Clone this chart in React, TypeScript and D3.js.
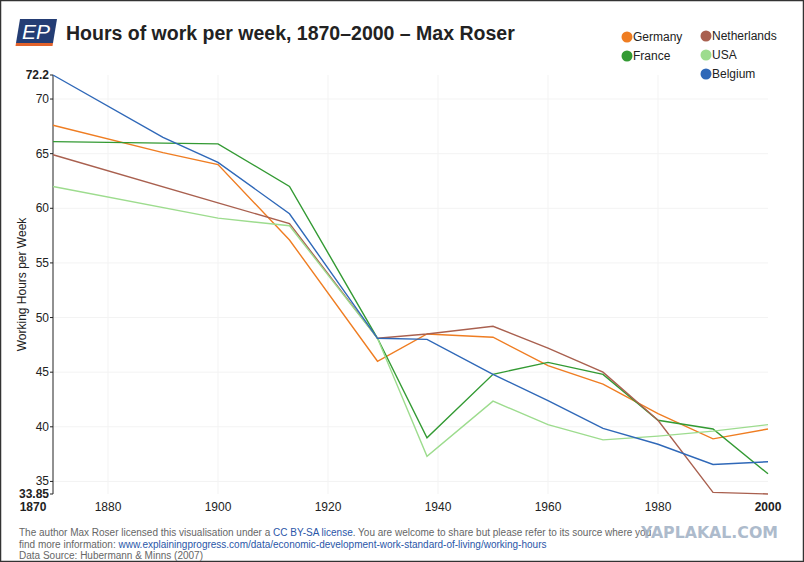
import * as d3 from "d3";
import { useEffect } from "react";

type Pt = { year: number; value: number };

const germany: Pt[] = [
  { year: 1870, value: 67.6 }, { year: 1890, value: 65.1 }, { year: 1900, value: 64.0 },
  { year: 1913, value: 57.1 }, { year: 1929, value: 46.0 }, { year: 1938, value: 48.5 },
  { year: 1950, value: 48.2 }, { year: 1960, value: 45.6 }, { year: 1970, value: 43.9 },
  { year: 1980, value: 41.2 }, { year: 1990, value: 38.9 }, { year: 2000, value: 39.8 },
];
const france: Pt[] = [
  { year: 1870, value: 66.1 }, { year: 1900, value: 65.9 }, { year: 1913, value: 62.0 },
  { year: 1929, value: 48.1 }, { year: 1938, value: 39.0 }, { year: 1950, value: 44.8 },
  { year: 1960, value: 45.9 }, { year: 1970, value: 44.8 }, { year: 1980, value: 40.6 },
  { year: 1990, value: 39.8 }, { year: 2000, value: 35.7 },
];
const netherlands: Pt[] = [
  { year: 1870, value: 64.9 }, { year: 1900, value: 60.5 }, { year: 1913, value: 58.6 },
  { year: 1929, value: 48.1 }, { year: 1938, value: 48.5 }, { year: 1950, value: 49.2 },
  { year: 1960, value: 47.2 }, { year: 1970, value: 45.0 }, { year: 1980, value: 40.6 },
  { year: 1990, value: 34.0 }, { year: 2000, value: 33.85 },
];
const usa: Pt[] = [
  { year: 1870, value: 62.0 }, { year: 1900, value: 59.1 }, { year: 1913, value: 58.4 },
  { year: 1929, value: 48.1 }, { year: 1938, value: 37.3 }, { year: 1950, value: 42.35 },
  { year: 1960, value: 40.2 }, { year: 1970, value: 38.8 }, { year: 1980, value: 39.15 },
  { year: 1990, value: 39.6 }, { year: 2000, value: 40.2 },
];
const belgium: Pt[] = [
  { year: 1870, value: 72.2 }, { year: 1890, value: 66.5 }, { year: 1900, value: 64.2 },
  { year: 1913, value: 59.5 }, { year: 1929, value: 48.1 }, { year: 1938, value: 48.0 },
  { year: 1950, value: 44.8 }, { year: 1960, value: 42.4 }, { year: 1970, value: 39.85 },
  { year: 1980, value: 38.4 }, { year: 1990, value: 36.55 }, { year: 2000, value: 36.8 },
];

const seriesNames = ["Germany", "France", "Netherlands", "USA", "Belgium"];
const seriesData = [germany, france, netherlands, usa, belgium];
const seriesColors = ["#ef7d22", "#339a33", "#a9604f", "#9ddc8e", "#2f68b8"];

const xTicks = [1880, 1900, 1920, 1940, 1960, 1980];
const yTicks = [35, 40, 45, 50, 55, 60, 65, 70];
const yMin = 33.85;
const yMax = 72.2;

const W = 804;
const H = 562;
const font = "'Liberation Sans', Arial, sans-serif";

export default function App() {
  useEffect(() => {
    document.body.style.margin = "0";
  }, []);

  const x = d3.scaleLinear().domain([1870, 2000]).range([53, 768]);
  const y = d3.scaleLinear().domain([yMin, yMax]).range([494, 75]);

  const line = d3
    .line<Pt>()
    .x((d) => x(d.year))
    .y((d) => y(d.value));

  // legend positions (two columns)
  const legendPos = [
    [627, 37], [627, 56], [706, 36], [706, 55], [706, 74],
  ];

  return (
    <svg width={W} height={H} style={{ display: "block", fontFamily: font }}>
      <rect x={0} y={0} width={W} height={H} fill="#fff" />
      <rect x={0.5} y={0.5} width={W - 1} height={H - 1} fill="none" stroke="#333" strokeWidth={1.5} />

      {/* logo */}
      <polygon points="20,19 57,19 53,43 16,43" fill="#243d74" />
      <polygon points="16,43 53,43 52.5,46 15.5,46" fill="#e2622b" />
      <text x={36} y={39} fill="#fff" fontSize={21} fontStyle="italic" textAnchor="middle" fontFamily="'Liberation Sans', Arial">
        EP
      </text>

      <text x={66} y={40} fontSize={19.5} fontWeight="bold" fill="#222">
        Hours of work per week, 1870–2000 – Max Roser
      </text>

      {/* grid */}
      {xTicks.map((t) => (
        <line key={"gx" + t} x1={x(t)} x2={x(t)} y1={y(yMax)} y2={y(yMin)} stroke="#f3f3f3" />
      ))}
      {yTicks.map((t) => (
        <line key={"gy" + t} x1={x(1870)} x2={x(2000)} y1={y(t)} y2={y(t)} stroke="#f3f3f3" />
      ))}

      {/* y axis */}
      <line x1={x(1870)} x2={x(1870)} y1={y(yMax)} y2={y(yMin)} stroke="#222" />
      {[yMin, ...yTicks, yMax].map((t) => (
        <g key={"yt" + t}>
          <line x1={x(1870) - 3} x2={x(1870)} y1={y(t)} y2={y(t)} stroke="#222" />
          <text
            x={x(1870) - 4}
            y={y(t) + 4}
            fontSize={12}
            textAnchor="end"
            fill="#222"
            fontWeight={t === yMin || t === yMax ? "bold" : "normal"}
          >
            {t}
          </text>
        </g>
      ))}
      <text
        transform={`translate(26,${(y(yMax) + y(yMin)) / 2}) rotate(-90)`}
        fontSize={12}
        textAnchor="middle"
        fill="#222"
      >
        Working Hours per Week
      </text>

      {/* x labels */}
      <text x={33} y={511} fontSize={12} fontWeight="bold" textAnchor="middle" fill="#222">1870</text>
      {xTicks.map((t) => (
        <text key={"xt" + t} x={x(t)} y={511} fontSize={12} textAnchor="middle" fill="#222">
          {t}
        </text>
      ))}
      <text x={x(2000)} y={511} fontSize={12} fontWeight="bold" textAnchor="middle" fill="#222">2000</text>

      {/* lines */}
      {seriesData.map((d, i) => (
        <path key={seriesNames[i]} d={line(d) ?? ""} fill="none" stroke={seriesColors[i]} strokeWidth={1.4} />
      ))}

      {/* legend */}
      {seriesNames.map((n, i) => (
        <g key={"lg" + n}>
          <circle cx={legendPos[i][0]} cy={legendPos[i][1]} r={5.5} fill={seriesColors[i]} />
          <text x={legendPos[i][0] + 6} y={legendPos[i][1] + 4} fontSize={12} fill="#222">
            {n}
          </text>
        </g>
      ))}

      {/* footer */}
      <text x={19} y={536} fontSize={10} fill="#666">
        The author Max Roser licensed this visualisation under a{" "}
        <tspan fill="#2a56a8">CC BY-SA license</tspan>. You are welcome to share but please refer to its source where you
      </text>
      <text x={19} y={548} fontSize={10} fill="#666">
        find more information: <tspan fill="#2a56a8">www.explainingprogress.com/data/economic-development-work-standard-of-living/working-hours</tspan>
      </text>
      <text x={19} y={559} fontSize={10} fill="#666">
        Data Source: Hubermann &amp; Minns (2007)
      </text>
      <text
        x={641}
        y={538}
        fontSize={15}
        fontWeight="bold"
        fill="#9fb0c4"
        opacity={0.85}
        textLength={137}
        lengthAdjust="spacingAndGlyphs"
        fontFamily="'DejaVu Sans', sans-serif"
      >
        YAPLAKAL.COM
      </text>
    </svg>
  );
}
